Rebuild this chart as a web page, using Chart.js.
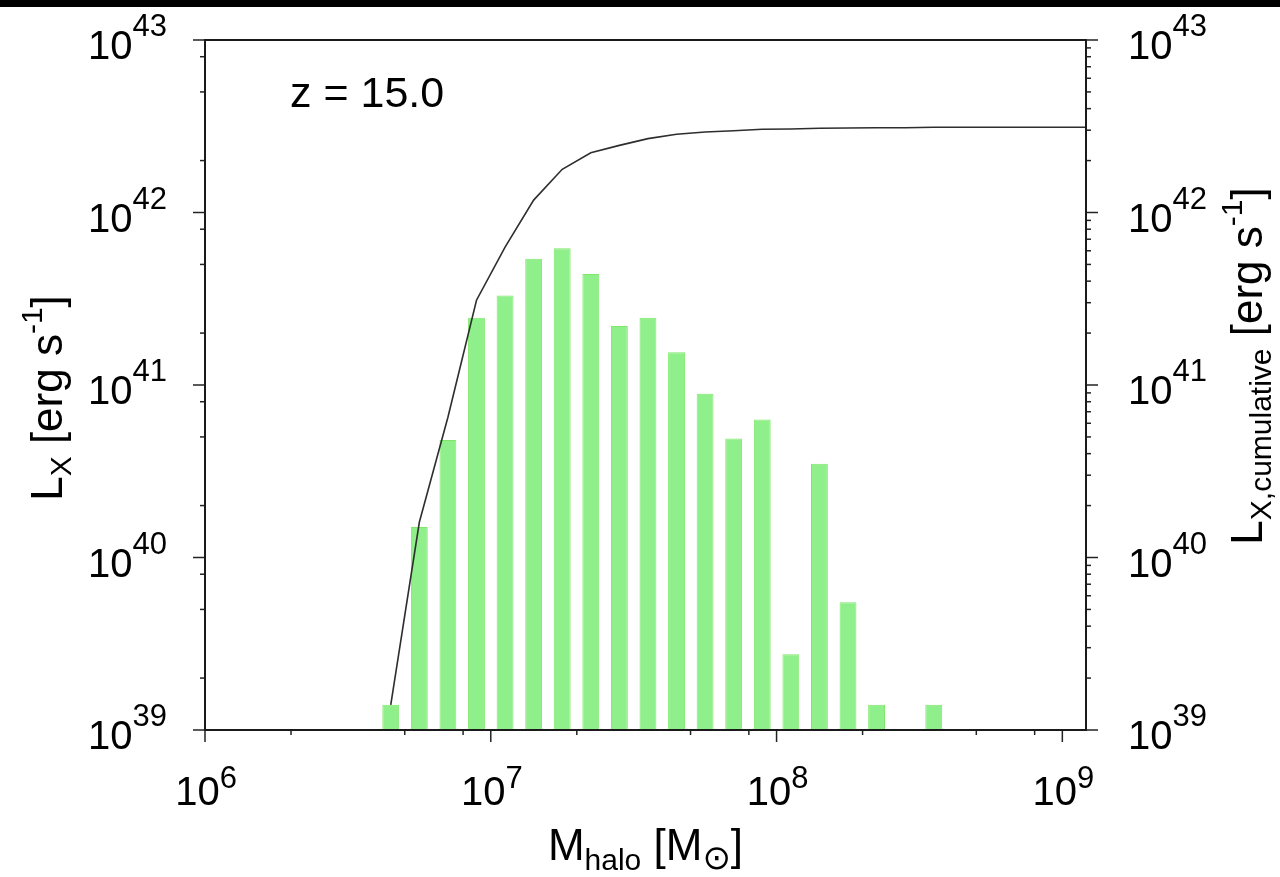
<!DOCTYPE html>
<html>
<head>
<meta charset="utf-8">
<title>L_X vs M_halo, z = 15</title>
<script src="https://cdn.jsdelivr.net/npm/chart.js@4.4.1/dist/chart.umd.min.js"></script>
<style>
  html, body { margin: 0; padding: 0; background: #fff; }
  #wrap { position: relative; width: 1280px; height: 877px; }
  #topband { position: absolute; left: 0; top: 0; width: 1280px; height: 7px; background: #000; }
</style>
</head>
<body>
<div id="wrap">
  <canvas id="chart" width="1280" height="877"></canvas>
  <div id="topband"></div>
</div>
<script>
// log10(M_halo / Msun) at bin centres, bins are 0.1 dex wide
const binCentres = [6.65, 6.75, 6.85, 6.95, 7.05, 7.15, 7.25, 7.35, 7.45, 7.55,
                    7.65, 7.75, 7.85, 7.95, 8.05, 8.15, 8.25, 8.35, 8.45, 8.55];
// X-ray luminosity per bin [erg/s] (null = empty bin)
const lxPerBin = [1.4e39, 1.5e40, 4.8e40, 2.45e41, 3.3e41, 5.4e41, 6.2e41, 4.4e41, 2.2e41, 2.45e41,
                  1.55e41, 8.9e40, 4.9e40, 6.3e40, 2.75e39, 3.5e40, 5.5e39, 1.4e39, null, 1.4e39];
// cumulative curve, sampled at the same bin centres and on past the right edge
const cumCentres = [6.65, 6.75, 6.85, 6.95, 7.05, 7.15, 7.25, 7.35, 7.45, 7.55,
                    7.65, 7.75, 7.85, 7.95, 8.05, 8.15, 8.25, 8.35, 8.45, 8.55,
                    8.65, 8.75, 8.85, 8.95, 9.05, 9.15];
const lxCumulative = [1.4e39, 1.6e40, 6.5e40, 3.1e41, 6.3e41, 1.18e42, 1.78e42, 2.22e42, 2.45e42, 2.68e42,
                      2.84e42, 2.93e42, 2.98e42, 3.04e42, 3.05e42, 3.08e42, 3.09e42, 3.1e42, 3.1e42, 3.12e42,
                      3.12e42, 3.12e42, 3.12e42, 3.12e42, 3.12e42, 3.12e42];

// axes
const xDecades = [1e6, 1e7, 1e8, 1e9];
const yDecades = [1e39, 1e40, 1e41, 1e42, 1e43];
const xMin = 1e6, xMax = 1.21e9;
const yMin = 1e39, yMax = 1e43;
const minorSteps = [2, 5, 8];                   // bottom / left axis
const minorStepsRight = [2, 3, 4, 5, 6, 7, 8, 9]; // right axis

const FONT = '"Liberation Sans", Arial, "DejaVu Sans", sans-serif';

// draw a run of text pieces: [text, size, dy, family]
function drawRich(ctx, parts, x, y, align) {
  const setFont = p => { ctx.font = p[1] + 'px ' + (p[3] || FONT); };
  let w = 0;
  parts.forEach(p => { setFont(p); w += ctx.measureText(p[0]).width; });
  let cx = align === 'center' ? x - w / 2 : align === 'right' ? x - w : x;
  parts.forEach(p => {
    setFont(p);
    ctx.fillText(p[0], cx, y + (p[2] || 0));
    cx += ctx.measureText(p[0]).width;
  });
}

function pow10Label(v) {
  return String(Math.round(Math.log10(v)));
}

const axesPlugin = {
  id: 'frameAxes',
  afterDraw(chart) {
    const { ctx, chartArea: a, scales } = chart;
    const sx = scales.x, sy = scales.y, sy2 = scales.y2;
    ctx.save();
    ctx.fillStyle = '#000';
    ctx.textAlign = 'left';
    ctx.textBaseline = 'alphabetic';

    // ticks
    ctx.strokeStyle = '#222';
    ctx.lineWidth = 1.5;
    const line = (x1, y1, x2, y2) => { ctx.beginPath(); ctx.moveTo(x1, y1); ctx.lineTo(x2, y2); ctx.stroke(); };
    xDecades.forEach(d => {
      const px = sx.getPixelForValue(d);
      line(px, a.bottom, px, a.bottom + 12);
      minorSteps.forEach(m => {
        const v = d * m;
        if (v > xMin && v < xMax) {
          const p = sx.getPixelForValue(v);
          line(p, a.bottom, p, a.bottom + 5);
        }
      });
    });
    yDecades.forEach(d => {
      const py = sy.getPixelForValue(d);
      line(a.left - 12, py, a.left, py);
      line(a.right, py, a.right + 12, py);
      minorSteps.forEach(m => {
        const v = d * m;
        if (v < yMax) { const p = sy.getPixelForValue(v); line(a.left - 5, p, a.left, p); }
      });
      minorStepsRight.forEach(m => {
        const v = d * m;
        if (v < yMax) { const p = sy2.getPixelForValue(v); line(a.right, p, a.right + 5, p); }
      });
    });

    // frame
    ctx.strokeStyle = '#1a1a1a';
    ctx.lineWidth = 2;
    ctx.strokeRect(a.left, a.top, a.right - a.left, a.bottom - a.top);

    // tick labels
    xDecades.forEach(d => {
      const px = sx.getPixelForValue(d);
      drawRich(ctx, [['10', 40, 0], [pow10Label(d), 31, -17]], px + 1, a.bottom + 75, 'center');
    });
    yDecades.forEach(d => {
      const py = sy.getPixelForValue(d);
      drawRich(ctx, [['10', 40, 0], [pow10Label(d), 31, -23]], a.left - 38, py + 19, 'right');
      drawRich(ctx, [['10', 40, 0], [pow10Label(d), 31, -23]], a.right + 42, py + 19, 'left');
    });

    // annotation
    drawRich(ctx, [['z = 15.0', 43, 0]], 290, 107, 'left');

    // x title
    drawRich(ctx, [['M', 44, 0], ['halo', 30, 10], [' [M', 44, 0],
                   ['\u2299', 34, 9, '"DejaVu Sans", sans-serif'], [']', 44, 0]],
      (a.left + a.right) / 2, 860, 'center');

    // left title
    ctx.save();
    ctx.translate(62, 398);
    ctx.rotate(-Math.PI / 2);
    drawRich(ctx, [['L', 44, 0], ['X', 30, 9], [' [erg s', 44, 0], ['-1', 30, -20], [']', 44, 0]], 0, 0, 'center');
    ctx.restore();

    // right title
    ctx.save();
    ctx.translate(1262, 366);
    ctx.rotate(-Math.PI / 2);
    drawRich(ctx, [['L', 44, 0], ['X,cumulative', 30, 9], [' [erg s', 44, 0], ['-1', 30, -20], [']', 44, 0]], 0, 0, 'center');
    ctx.restore();

    ctx.restore();
  }
};

const keepDecades = list => scale => { scale.ticks = list.map(v => ({ value: v })); };

new Chart(document.getElementById('chart'), {
  type: 'bar',
  data: {
    datasets: [
      {
        type: 'line',
        label: 'L_X,cumulative',
        yAxisID: 'y2',
        data: cumCentres.map((c, i) => ({ x: Math.pow(10, c), y: lxCumulative[i] })),
        borderColor: '#2e2e2e',
        borderWidth: 1.6,
        pointRadius: 0,
        tension: 0,
        order: 0
      },
      {
        type: 'bar',
        label: 'L_X',
        yAxisID: 'y',
        data: binCentres.map((c, i) => ({ x: Math.pow(10, c), y: lxPerBin[i] })),
        backgroundColor: '#8fef8a',
        borderColor: '#7fe86a',
        borderWidth: 1,
        barPercentage: 0.59,
        categoryPercentage: 1,
        order: 1
      }
    ]
  },
  options: {
    responsive: false,
    animation: false,
    devicePixelRatio: 1,
    layout: { padding: { left: 205, right: 194, top: 40, bottom: 147 } },
    plugins: { legend: { display: false }, tooltip: { enabled: false } },
    scales: {
      x: { type: 'logarithmic', min: xMin, max: xMax, offset: false, display: false,
           afterBuildTicks: keepDecades(xDecades) },
      y: { type: 'logarithmic', position: 'left', min: yMin, max: yMax, display: false,
           afterBuildTicks: keepDecades(yDecades) },
      y2: { type: 'logarithmic', position: 'right', min: yMin, max: yMax, display: false,
            afterBuildTicks: keepDecades(yDecades) }
    }
  },
  plugins: [axesPlugin]
});
</script>
</body>
</html>
